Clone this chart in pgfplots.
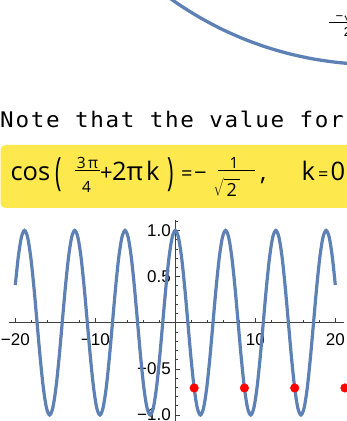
\documentclass[border=0pt]{standalone}
\usepackage{fontspec}
\usepackage{graphicx}
\usepackage{pgfplots}
\pgfplotsset{compat=1.18}
\setmainfont{Liberation Sans}
\newfontfamily\osans{Open Sans}
\newfontfamily\mono{DejaVu Sans Mono}[FakeStretch=1.05,LetterSpace=8]
\newcommand\os[1]{\osans\fontsize{#1}{#1}\selectfont}
\definecolor{mmablue}{RGB}{94,129,181}
\definecolor{cellyellow}{RGB}{253,232,78}

\begin{document}
\begin{tikzpicture}
\useasboundingbox (0pt,0pt) rectangle (347pt,421pt);
\clip (0pt,0pt) rectangle (347pt,421pt);

% --- lower part of the unit circle from the output cell above ---
\begin{axis}[hide axis, clip=false, x=352pt, y=352pt,
  xmin=-1.1, xmax=1.1, ymin=-1.1, ymax=1.1,
  anchor=center, at={(375.5pt,708.5pt)}]
\addplot[mmablue, line width=3.3pt, smooth] coordinates {
 (-0.7193,-0.6947) (-0.6691,-0.7431) (-0.6157,-0.7880) (-0.5592,-0.8290)
 (-0.5000,-0.8660) (-0.4384,-0.8988) (-0.3746,-0.9272) (-0.3090,-0.9511)
 (-0.2419,-0.9703) (-0.1736,-0.9848) (-0.1045,-0.9945) (-0.0349,-0.9994)
 (0.0349,-0.9994) (0.1045,-0.9945)};
\end{axis}
% label -sqrt(2)/2
\node[anchor=south, inner sep=0] at (348pt,399pt) {\fontsize{13}{13}\selectfont −$\sqrt{\hbox{2}}$};
\draw[line width=0.7pt] (329pt,398.3pt) -- (367pt,398.3pt);
\node[anchor=north, inner sep=0] at (347.5pt,393.5pt) {\fontsize{13}{13}\selectfont 2};

% --- text line ---
\node[anchor=base west, inner sep=0] at (0pt,293.7pt) {\mono\fontsize{21.5}{21.5}\selectfont Note that the value for};

% --- highlighted formula ---
\fill[cellyellow, rounded corners=5pt] (0.5pt,213pt) rectangle (380pt,276pt);
\node[anchor=base west, inner sep=0] at (10.3pt,240.5pt) {\os{25.5}cos};
\node[inner sep=0] at (58.5pt,246pt) {\os{39}\scalebox{0.55}[1]{(}};
\node[anchor=base, inner sep=0] at (87.5pt,252.7pt) {\os{15.5}3\hspace{2.5pt}π};
\draw[line width=0.9pt] (75pt,251pt) -- (100pt,251pt);
\node[anchor=base, inner sep=0] at (86.5pt,228.3pt) {\os{15.5}4};
\node[anchor=base west, inner sep=0] at (100pt,240.5pt) {\os{22}+};
\node[anchor=base west, inner sep=0] at (112pt,240.5pt) {\os{25.5}2};
\node[anchor=base west, inner sep=0] at (126.5pt,240.5pt) {\os{25.5}π};
\node[anchor=base west, inner sep=0] at (146pt,240.5pt) {\os{25.5}k};
\node[inner sep=0] at (170.5pt,246pt) {\os{39}\scalebox{0.55}[1]{)}};
\node[anchor=base west, inner sep=0] at (181pt,240.5pt) {\os{20}=};
\node[anchor=base west, inner sep=0] at (194pt,240pt) {\os{22}−};
\node[anchor=base, inner sep=0] at (234pt,252.7pt) {\os{15.5}1};
\draw[line width=0.9pt] (218pt,251pt) -- (255pt,251pt);
\node[anchor=base west, inner sep=0] at (213.5pt,224.5pt) {\fontsize{18}{18}\selectfont$\sqrt{\hbox{\os{18}\,\rule{0pt}{17pt}2\,}}$};
\node[anchor=base west, inner sep=0] at (260pt,240.5pt) {\os{25.5},};
\node[anchor=base west, inner sep=0] at (301.5pt,240.5pt) {\os{25.5}k};
\node[anchor=base west, inner sep=0] at (318pt,240.5pt) {\os{18}=};
\node[anchor=base west, inner sep=0] at (330.5pt,240.5pt) {\os{25.5}0};

% --- plot of cos(x) with the points x = 3pi/4 + 2 pi k ---
\begin{axis}[
  axis lines=middle,
  axis line style={-, black!75, line width=0.6pt},
  x=8pt, y=92.3pt,
  xmin=-20.8, xmax=21.1, ymin=-1.2, ymax=1.11,
  anchor=south west, at={(8.9pt,-12.46pt)},
  clip=false,
  xtick={-20,-10,10,20}, xticklabels={−20,−10,10,20},
  ytick={-1,-0.5,0.5,1}, yticklabels={−1.0,−0.5,0.5,1.0},
  minor xtick={-18,-16,-14,-12,-8,-6,-4,-2,2,4,6,8,12,14,16,18},
  minor ytick={-1.1,-0.9,-0.8,-0.7,-0.6,-0.4,-0.3,-0.2,-0.1,0.1,0.2,0.3,0.4,0.6,0.7,0.8,0.9,1.1},
  tick align=inside,
  major tick length=5pt, minor tick length=3pt,
  tick style={black!75, line width=0.6pt},
  ticklabel style={font=\fontsize{17}{17}\selectfont, black},
  xticklabel style={yshift=-7pt},
  yticklabel style={xshift=-1pt},
]
\addplot[mmablue, line width=3.2pt, smooth] coordinates {
 (-20,0.4081) (-19.6350,0.7071) (-19.2423,0.9239) (-18.8496,1) (-18.4569,0.9239)
 (-18.0642,0.7071) (-17.6715,0.3827) (-17.2788,0) (-16.8861,-0.3827) (-16.4934,-0.7071)
 (-16.1007,-0.9239) (-15.7080,-1) (-15.3153,-0.9239) (-14.9226,-0.7071) (-14.5299,-0.3827)
 (-14.1372,0) (-13.7445,0.3827) (-13.3518,0.7071) (-12.9591,0.9239) (-12.5664,1)
 (-12.1737,0.9239) (-11.7810,0.7071) (-11.3883,0.3827) (-10.9956,0) (-10.6029,-0.3827)
 (-10.2102,-0.7071) (-9.8175,-0.9239) (-9.4248,-1) (-9.0321,-0.9239) (-8.6394,-0.7071)
 (-8.2467,-0.3827) (-7.8540,0) (-7.4613,0.3827) (-7.0686,0.7071) (-6.6759,0.9239)
 (-6.2832,1) (-5.8905,0.9239) (-5.4978,0.7071) (-5.1051,0.3827) (-4.7124,0)
 (-4.3197,-0.3827) (-3.9270,-0.7071) (-3.5343,-0.9239) (-3.1416,-1) (-2.7489,-0.9239)
 (-2.3562,-0.7071) (-1.9635,-0.3827) (-1.5708,0) (-1.1781,0.3827) (-0.7854,0.7071)
 (-0.3927,0.9239) (0,1) (0.3927,0.9239) (0.7854,0.7071) (1.1781,0.3827)
 (1.5708,0) (1.9635,-0.3827) (2.3562,-0.7071) (2.7489,-0.9239) (3.1416,-1)
 (3.5343,-0.9239) (3.9270,-0.7071) (4.3197,-0.3827) (4.7124,0) (5.1051,0.3827)
 (5.4978,0.7071) (5.8905,0.9239) (6.2832,1) (6.6759,0.9239) (7.0686,0.7071)
 (7.4613,0.3827) (7.8540,0) (8.2467,-0.3827) (8.6394,-0.7071) (9.0321,-0.9239)
 (9.4248,-1) (9.8175,-0.9239) (10.2102,-0.7071) (10.6029,-0.3827) (10.9956,0)
 (11.3883,0.3827) (11.7810,0.7071) (12.1737,0.9239) (12.5664,1) (12.9591,0.9239)
 (13.3518,0.7071) (13.7445,0.3827) (14.1372,0) (14.5299,-0.3827) (14.9226,-0.7071)
 (15.3153,-0.9239) (15.7080,-1) (16.1007,-0.9239) (16.4934,-0.7071) (16.8861,-0.3827)
 (17.2788,0) (17.6715,0.3827) (18.0642,0.7071) (18.4569,0.9239) (18.8496,1)
 (19.2423,0.9239) (19.6350,0.7071) (20,0.4081)};
\addplot[only marks, mark=*, mark size=4.3pt, red, mark options={draw=none, fill=red}] coordinates {
 (2.3562,-0.7071) (8.6394,-0.7071) (14.9226,-0.7071) (21.2058,-0.7071)};
\end{axis}
\end{tikzpicture}
\end{document}
